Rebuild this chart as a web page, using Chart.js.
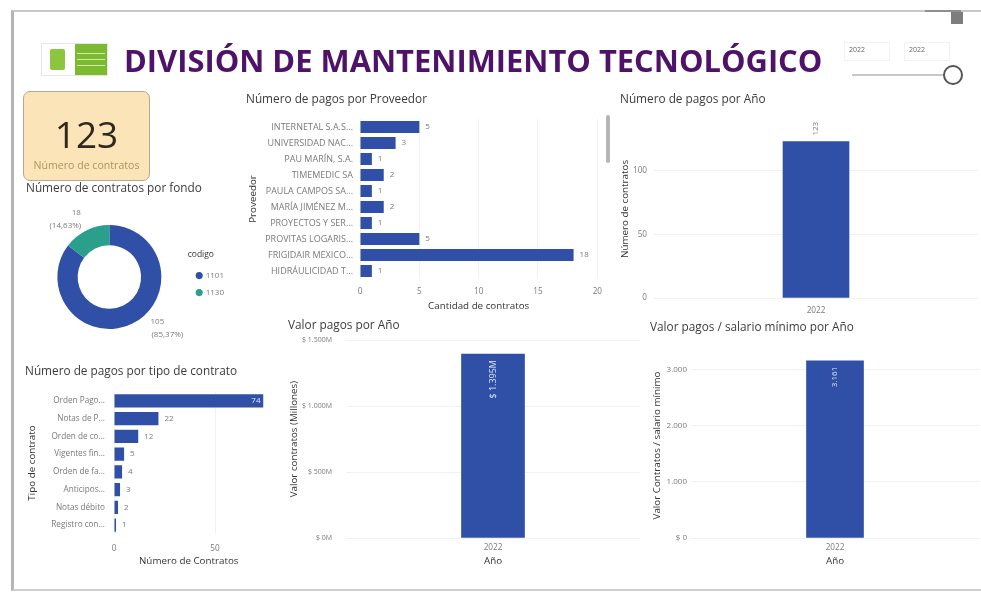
<!DOCTYPE html>
<html lang="es">
<head>
<meta charset="utf-8">
<title>División de Mantenimiento Tecnológico</title>
<script src="https://cdn.jsdelivr.net/npm/chart.js@4/dist/chart.umd.min.js"></script>
<style>
html,body{margin:0;padding:0;background:#fff;width:981px;height:592px;overflow:hidden;font-family:"Open Sans",sans-serif}
#page{position:relative;width:981px;height:592px;filter:blur(.6px)}
#page>*{position:absolute}
.t{font-size:11.8px;color:#3c3c3c;white-space:nowrap;line-height:14px}
canvas{display:block}
.box{position:absolute}
</style>
</head>
<body>
<div id="page">
  <div style="left:11px;top:10px;width:970px;height:581px;border-left:3px solid #b4b4b4;border-top:2px solid #c8c8c8;border-bottom:2px solid #cfcfcf;box-sizing:border-box"></div>
  <div style="left:925px;top:10px;width:36px;height:2px;background:#8f8f8f"></div>
  <div style="left:951px;top:12px;width:12px;height:12px;background:#7d7d7d"></div>

  <div style="left:41px;top:43px;width:67px;height:33px;border:1px solid #e6e6e6;box-sizing:border-box"></div>
  <div style="left:50px;top:49px;width:15px;height:21px;background:#8cc63f;border-radius:2px"></div>
  <div style="left:75px;top:44px;width:32px;height:31px;background:#7cba2f"></div>
  <div style="left:77px;top:53px;width:28px;height:1px;background:#d4e9b0"></div>
  <div style="left:77px;top:59px;width:28px;height:1px;background:#d4e9b0"></div>
  <div style="left:77px;top:65px;width:28px;height:1px;background:#d4e9b0"></div>

  <div id="mainTitle" style="left:124px;top:37px;font-size:30.9px;font-weight:700;color:#4e1268;white-space:nowrap;line-height:46px">DIVISIÓN DE MANTENIMIENTO TECNOLÓGICO</div>

  <div style="left:844px;top:42px;width:46px;height:19px;border:1px solid #f2f2f2;font-size:7px;color:#666;line-height:14px;padding-left:4px;box-sizing:border-box">2022</div>
  <div style="left:904px;top:42px;width:46px;height:19px;border:1px solid #f2f2f2;font-size:7px;color:#666;line-height:14px;padding-left:4px;box-sizing:border-box">2022</div>
  <div style="left:852px;top:74px;width:94px;height:2px;background:#c8c8c8"></div>
  <div style="left:943px;top:65px;width:20px;height:20px;border:2px solid #555;border-radius:50%;background:#fff;box-sizing:border-box"></div>

  <div style="left:23px;top:91px;width:127px;height:90px;background:#fbe4b8;border:1.5px solid #b9a98a;border-radius:7px;box-sizing:border-box"></div>
  <div style="left:23px;top:111px;width:127px;text-align:center;font-size:37px;color:#2e281e;line-height:46px">123</div>
  <div style="left:23px;top:158px;width:127px;text-align:center;font-size:10.6px;color:#ad955f;line-height:14px">Número de contratos</div>

  <div class="t" style="left:246px;top:91px">Número de pagos por Proveedor</div>
  <div class="t" style="left:620px;top:91px">Número de pagos por Año</div>
  <div class="t" style="left:26px;top:180px">Número de contratos por fondo</div>
  <div class="t" style="left:25px;top:363px">Número de pagos por tipo de contrato</div>
  <div class="t" style="left:288px;top:317px">Valor pagos por Año</div>
  <div class="t" style="left:650px;top:319px">Valor pagos / salario mínimo por Año</div>

  <div style="left:606px;top:115px;width:4px;height:48px;background:#b5b5b5;border-radius:2px"></div>

  <div class="box" style="left:240px;top:108px;width:370px;height:205px"><canvas id="cProveedor"></canvas></div>
  <div class="box" style="left:20px;top:205px;width:214px;height:144px"><canvas id="cFondo"></canvas></div>
  <div class="box" style="left:15px;top:385px;width:260px;height:190px"><canvas id="cTipo"></canvas></div>
  <div class="box" style="left:612px;top:108px;width:366px;height:210px"><canvas id="cAnio"></canvas></div>
  <div class="box" style="left:282px;top:322px;width:358px;height:248px"><canvas id="cValor"></canvas></div>
  <div class="box" style="left:648px;top:345px;width:332px;height:225px"><canvas id="cSalario"></canvas></div>
</div>

<script>
// ---------- data ----------
const proveedores = ['INTERNETAL S.A.S...','UNIVERSIDAD NAC...','PAU MARÍN, S.A.','TIMEMEDIC SA','PAULA CAMPOS SA...','MARÍA JIMÉNEZ M...','PROYECTOS Y SER...','PROVITAS LOGARIS...','FRIGIDAIR MEXICO...','HIDRÁULICIDAD T...'];
const pagosProveedor = [5,3,1,2,1,2,1,5,18,1];
const proveedorTickValues = [0,5,10,15,20];

const fondos = ['1101','1130'];
const contratosFondo = [105,18];
const fondoLabels = [['105','(85,37%)'],['18','(14,63%)']];

const tiposContrato = ['Orden Pago...','Notas de P...','Orden de co...','Vigentes fin...','Orden de fa...','Anticipos...','Notas débito','Registro con...'];
const pagosTipo = [74,22,12,5,4,3,2,1];
const tipoTickValues = [0,50];

const anios = ['2022'];
const pagosAnio = [123];
const anioTickValues = [0,50,100];
const valorAnio = [1395];
const valorLabel = ['$ 1.395M'];
const valorTickValues = [0,500,1000,1500];
const valorTicks = ['$ 0M','$ 500M','$ 1.000M','$ 1.500M'];
const salarioAnio = [3161];
const salarioLabel = ['3.161'];
const salarioTickValues = [0,1000,2000,3000];
const salarioTicks = ['$ 0','1.000','2.000','3.000'];

// ---------- colours and shared styles ----------
const BLUE = '#2f50a6', TEAL = '#2aa08c', GREY = '#7a7a7a', DARK = '#333', GRID = '#f1f1f1';
const FONT = '"Open Sans", sans-serif';
Chart.defaults.font.family = FONT;
Chart.defaults.animation = false;
Chart.defaults.responsive = true;
Chart.defaults.maintainAspectRatio = false;

// draws value labels next to bars and around the doughnut
const valueLabels = {
  id: 'valueLabels',
  afterDatasetsDraw(chart, args, o) {
    if (!o.mode) return;
    const { ctx } = chart;
    const meta = chart.getDatasetMeta(0);
    const values = chart.data.datasets[0].data;
    ctx.save();
    ctx.font = (o.size || 8) + 'px ' + FONT;
    meta.data.forEach((el, i) => {
      ctx.save();
      if (o.mode === 'h') {
        const inside = o.insideAbove !== undefined && values[i] >= o.insideAbove;
        ctx.fillStyle = inside ? '#dfe6f7' : GREY;
        ctx.textBaseline = 'middle';
        ctx.textAlign = inside ? 'right' : 'left';
        ctx.fillText(String(values[i]), el.x + (inside ? -3 : 6), el.y);
      } else if (o.mode === 'vOut' || o.mode === 'vIn') {
        const txt = o.text ? o.text[i] : String(values[i]);
        ctx.translate(el.x, el.y + (o.mode === 'vOut' ? -6 : 6));
        ctx.rotate(-Math.PI / 2);
        ctx.fillStyle = o.mode === 'vOut' ? GREY : '#dfe6f7';
        ctx.textBaseline = 'middle';
        ctx.textAlign = o.mode === 'vOut' ? 'left' : 'right';
        ctx.fillText(txt, 0, 0);
      } else if (o.mode === 'arc') {
        const [dx, dy] = o.offsets[i];
        ctx.fillStyle = GREY;
        ctx.textAlign = 'center';
        ctx.textBaseline = 'middle';
        o.text[i].forEach((line, k) => ctx.fillText(line, el.x + dx[k], el.y + dy + k * 13));
      }
      ctx.restore();
    });
    ctx.restore();
  }
};
Chart.register(valueLabels);

const fixW = w => s => { s.width = w; };
const fixH = h => s => { s.height = h; };
const useTicks = values => s => { s.ticks = values.map(value => ({ value })); };
const axisTitle = text => ({ display: true, text, color: DARK, font: { size: 9.8 }, padding: { top: 1, bottom: 1 } });

function hBar(id, labels, data, opt) {
  return new Chart(document.getElementById(id), {
    type: 'bar',
    data: { labels, datasets: [{ data, backgroundColor: BLUE, barPercentage: opt.bar, categoryPercentage: 1 }] },
    options: {
      indexAxis: 'y',
      layout: { padding: opt.padding },
      plugins: { legend: { display: false }, tooltip: { enabled: false }, valueLabels: opt.labels },
      scales: {
        x: { min: 0, max: opt.max, bounds: 'data', afterBuildTicks: useTicks(opt.tickValues), afterFit: fixH(opt.xh),
             grid: { color: GRID, drawTicks: false }, border: { display: false },
             ticks: { color: GREY, font: { size: 8.2 }, padding: opt.xPad, maxRotation: 0 },
             title: axisTitle(opt.xTitle) },
        y: { afterFit: fixW(opt.yw), grid: { display: false }, border: { display: false },
             ticks: { color: GREY, font: { size: opt.yFont }, padding: opt.yPad, autoSkip: false },
             title: axisTitle(opt.yTitle) }
      }
    }
  });
}

function vBar(id, labels, data, opt) {
  return new Chart(document.getElementById(id), {
    type: 'bar',
    data: { labels, datasets: [{ data, backgroundColor: BLUE, barThickness: opt.bar }] },
    options: {
      layout: { padding: opt.padding },
      plugins: { legend: { display: false }, tooltip: { enabled: false }, valueLabels: opt.labels },
      scales: {
        x: { afterFit: fixH(opt.xh), grid: { display: false }, border: { display: false },
             ticks: { color: GREY, font: { size: 8.2 }, padding: opt.xPad, maxRotation: 0 },
             title: opt.xTitle ? axisTitle(opt.xTitle) : { display: false } },
        y: { min: 0, max: opt.max, bounds: 'data', afterBuildTicks: useTicks(opt.tickValues), afterFit: fixW(opt.yw),
             grid: { color: GRID, drawTicks: false }, border: { display: false },
             ticks: { color: GREY, font: { size: opt.yFont }, padding: opt.yPad,
                      callback: opt.ticks ? (v, i) => opt.ticks[i] : undefined },
             title: axisTitle(opt.yTitle) }
      }
    }
  });
}

hBar('cProveedor', proveedores, pagosProveedor, {
  bar: .76, max: 20, tickValues: proveedorTickValues, xh: 34, yw: 114, xPad: 8, yPad: -1, yFont: 9,
  padding: { top: 11, right: 11, left: 6 },
  xTitle: 'Cantidad de contratos', yTitle: 'Proveedor', labels: { mode: 'h' }
});

hBar('cTipo', tiposContrato, pagosTipo, {
  bar: .74, max: 74, tickValues: tipoTickValues, xh: 34, yw: 89, xPad: 10, yPad: 1, yFont: 8.2,
  padding: { top: 7, right: 11.5, left: 10, bottom: 7 },
  xTitle: 'Número de Contratos', yTitle: 'Tipo de contrato', labels: { mode: 'h', insideAbove: 50 }
});

vBar('cAnio', anios, pagosAnio, {
  bar: 66, max: 140, tickValues: anioTickValues, xh: 20, yw: 36, xPad: 0, yPad: 7, yFont: 8.2,
  padding: { top: 3, left: 6 },
  yTitle: 'Número de contratos', labels: { mode: 'vOut' }
});

vBar('cValor', anios, valorAnio, {
  bar: 63, max: 1500, tickValues: valorTickValues, xh: 30, yw: 59, xPad: -3, yPad: 14, yFont: 7,
  padding: { top: 5, left: 5, bottom: 2 }, ticks: valorTicks,
  xTitle: 'Año', yTitle: 'Valor contratos (Millones)', labels: { mode: 'vIn', text: valorLabel, size: 9 }
});

vBar('cSalario', anios, salarioAnio, {
  bar: 57, max: 3300, tickValues: salarioTickValues, xh: 30, yw: 40, xPad: -3, yPad: 3, yFont: 8,
  padding: { top: 8, left: 2, bottom: 2 }, ticks: salarioTicks,
  xTitle: 'Año', yTitle: 'Valor Contratos / salario mínimo', labels: { mode: 'vIn', text: salarioLabel }
});

new Chart(document.getElementById('cFondo'), {
  type: 'doughnut',
  data: { labels: fondos, datasets: [{ data: contratosFondo, backgroundColor: [BLUE, TEAL], borderWidth: 0 }] },
  options: {
    cutout: '61%',
    layout: { padding: { top: 20, bottom: 20, left: 11 } },
    plugins: {
      tooltip: { enabled: false },
      legend: {
        position: 'right', align: 'center',
        title: { display: true, text: 'codigo', position: 'start', color: DARK, font: { size: 8.5 }, padding: 2 },
        labels: { usePointStyle: true, pointStyle: 'circle', boxWidth: 5, boxHeight: 5, color: GREY, font: { size: 8 }, padding: 9 }
      },
      valueLabels: {
        mode: 'arc', size: 8, text: fondoLabels,
        offsets: [[[48, 58], 45], [[-33, -44], -64]]
      }
    }
  }
});
</script>
</body>
</html>
